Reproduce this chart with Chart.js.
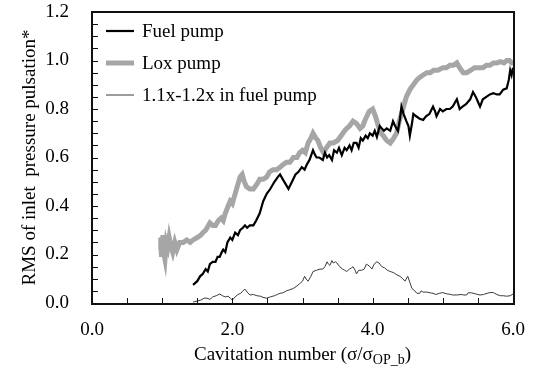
<!DOCTYPE html>
<html>
<head>
<meta charset="utf-8">
<script src="https://cdn.jsdelivr.net/npm/chart.js@4/dist/chart.umd.min.js"></script>
<style>
html,body{margin:0;padding:0;background:#fff;}
#wrap{width:534px;height:369px;}
</style>
</head>
<body>
<div id="wrap"><canvas id="c" width="534" height="369"></canvas></div>
<script>
// ---- data ----
const fuelX = [1.44,1.50,1.54,1.58,1.62,1.65,1.68,1.72,1.76,1.79,1.82,1.85,1.87,1.90,1.93,1.97,2.00,2.04,2.08,2.11,2.15,2.18,2.21,2.25,2.30,2.34,2.39,2.44,2.49,2.54,2.60,2.65,2.68,2.72,2.76,2.80,2.85,2.90,2.94,2.99,3.03,3.06,3.10,3.15,3.18,3.20,3.24,3.29,3.32,3.35,3.38,3.42,3.45,3.49,3.52,3.56,3.60,3.63,3.67,3.70,3.73,3.77,3.80,3.83,3.86,3.90,3.93,3.96,4.00,4.03,4.06,4.10,4.13,4.16,4.20,4.25,4.29,4.32,4.36,4.39,4.41,4.44,4.48,4.51,4.53,4.56,4.58,4.62,4.67,4.72,4.76,4.81,4.86,4.89,4.91,4.96,5.00,5.05,5.10,5.14,5.20,5.22,5.24,5.28,5.33,5.39,5.43,5.47,5.50,5.53,5.57,5.62,5.67,5.72,5.77,5.81,5.86,5.91,5.94,5.96,5.98,6.00];
const fuelY = [0.075,0.09,0.11,0.12,0.14,0.13,0.16,0.17,0.17,0.19,0.19,0.21,0.22,0.21,0.25,0.27,0.26,0.29,0.28,0.30,0.31,0.32,0.31,0.32,0.32,0.34,0.37,0.42,0.45,0.47,0.50,0.52,0.53,0.51,0.49,0.47,0.50,0.53,0.54,0.56,0.55,0.57,0.59,0.63,0.61,0.60,0.60,0.59,0.62,0.60,0.61,0.59,0.63,0.62,0.64,0.61,0.64,0.63,0.65,0.63,0.66,0.66,0.64,0.68,0.67,0.69,0.68,0.70,0.69,0.71,0.685,0.73,0.72,0.71,0.72,0.71,0.75,0.73,0.71,0.76,0.81,0.78,0.75,0.73,0.69,0.74,0.78,0.77,0.76,0.755,0.77,0.78,0.81,0.79,0.77,0.80,0.79,0.80,0.80,0.81,0.84,0.82,0.80,0.81,0.82,0.84,0.87,0.85,0.83,0.81,0.84,0.85,0.86,0.865,0.86,0.86,0.88,0.885,0.92,0.96,0.94,0.97];

const loxX = [0.97,0.98,0.99,1.00,1.01,1.02,1.04,1.06,1.08,1.10,1.12,1.15,1.18,1.21,1.25,1.30,1.35,1.40,1.44,1.50,1.55,1.58,1.62,1.68,1.72,1.76,1.80,1.84,1.87,1.90,1.94,1.97,2.00,2.04,2.08,2.11,2.14,2.17,2.20,2.25,2.30,2.35,2.39,2.44,2.49,2.53,2.58,2.63,2.68,2.72,2.77,2.82,2.87,2.92,2.96,3.00,3.04,3.08,3.12,3.15,3.19,3.22,3.26,3.30,3.34,3.39,3.44,3.50,3.55,3.60,3.63,3.67,3.72,3.77,3.82,3.86,3.90,3.95,4.00,4.04,4.08,4.12,4.15,4.20,4.25,4.30,4.34,4.38,4.43,4.48,4.53,4.58,4.63,4.67,4.72,4.77,4.82,4.87,4.93,5.00,5.05,5.10,5.15,5.20,5.24,5.29,5.34,5.40,5.45,5.50,5.57,5.62,5.67,5.72,5.77,5.82,5.87,5.91,5.95,5.98,6.00];
const loxY = [0.22,0.27,0.19,0.26,0.28,0.21,0.18,0.25,0.23,0.27,0.24,0.21,0.25,0.22,0.25,0.25,0.26,0.25,0.26,0.27,0.28,0.29,0.30,0.33,0.32,0.32,0.34,0.35,0.34,0.37,0.40,0.42,0.41,0.45,0.49,0.52,0.53,0.50,0.48,0.47,0.47,0.49,0.51,0.51,0.52,0.54,0.55,0.55,0.56,0.57,0.58,0.58,0.60,0.60,0.62,0.63,0.62,0.66,0.68,0.70,0.68,0.67,0.64,0.62,0.64,0.66,0.66,0.67,0.69,0.71,0.72,0.73,0.75,0.74,0.72,0.73,0.76,0.79,0.80,0.77,0.73,0.70,0.69,0.67,0.66,0.68,0.70,0.75,0.80,0.85,0.88,0.90,0.92,0.93,0.94,0.95,0.95,0.96,0.96,0.97,0.97,0.98,0.98,0.99,0.97,0.95,0.95,0.96,0.97,0.97,0.97,0.98,0.98,0.99,0.99,0.995,0.99,1.00,1.00,0.99,0.99];

const harmX = [1.44,1.50,1.55,1.60,1.64,1.68,1.72,1.77,1.82,1.86,1.90,1.94,1.97,2.00,2.04,2.08,2.12,2.15,2.18,2.21,2.25,2.30,2.35,2.40,2.45,2.49,2.54,2.60,2.64,2.68,2.72,2.77,2.82,2.87,2.92,2.96,3.00,3.03,3.06,3.08,3.12,3.15,3.20,3.25,3.29,3.32,3.35,3.37,3.39,3.42,3.44,3.47,3.49,3.53,3.57,3.60,3.63,3.67,3.70,3.72,3.75,3.77,3.80,3.84,3.88,3.91,3.93,3.96,3.99,4.02,4.06,4.09,4.13,4.17,4.21,4.25,4.30,4.35,4.39,4.43,4.46,4.50,4.53,4.56,4.60,4.63,4.67,4.69,4.72,4.77,4.82,4.86,4.90,4.95,5.00,5.05,5.10,5.14,5.20,5.26,5.30,5.34,5.36,5.41,5.46,5.50,5.53,5.58,5.63,5.67,5.72,5.77,5.82,5.86,5.91,5.96,6.00];
const harmY = [0.004,0.008,0.012,0.02,0.02,0.015,0.025,0.03,0.037,0.03,0.025,0.028,0.02,0.012,0.025,0.035,0.04,0.05,0.057,0.045,0.033,0.035,0.03,0.028,0.022,0.02,0.025,0.03,0.035,0.04,0.042,0.05,0.055,0.06,0.07,0.08,0.09,0.11,0.095,0.09,0.11,0.13,0.135,0.14,0.14,0.15,0.17,0.16,0.155,0.175,0.165,0.17,0.165,0.15,0.14,0.135,0.13,0.14,0.145,0.15,0.135,0.12,0.135,0.135,0.14,0.16,0.157,0.15,0.14,0.16,0.17,0.165,0.15,0.145,0.135,0.13,0.125,0.115,0.11,0.10,0.09,0.11,0.085,0.06,0.05,0.04,0.04,0.05,0.045,0.045,0.042,0.04,0.035,0.04,0.043,0.038,0.036,0.033,0.033,0.035,0.033,0.033,0.042,0.042,0.038,0.035,0.033,0.035,0.04,0.043,0.043,0.035,0.03,0.03,0.028,0.03,0.037];

const seriesLabels = ['Fuel pump','Lox pump','1.1x-1.2x in fuel pump'];
const xTitle = 'Cavitation number (\u03C3/\u03C3';
const xTitleSub = 'OP_b';
const yTitle = 'RMS of inlet  pressure pulsation*';

const FONT = '"Liberation Serif","Times New Roman",serif';

function pts(xs, ys){ return xs.map((x,i)=>({x:x, y:ys[i]})); }

const framePlugin = {
  id: 'frame',
  afterDraw(chart){
    const ctx = chart.ctx, a = chart.chartArea;
    const xs = chart.scales.x, ys = chart.scales.y;
    ctx.save();
    ctx.globalAlpha = 1;
    ctx.globalCompositeOperation = 'source-over';
    ctx.fillStyle = '#000000';
    const L = Math.round(a.left), R = Math.round(a.right), T = Math.round(a.top), B = Math.round(a.bottom);
    // border (filled rectangles, ~1.5px)
    ctx.fillStyle = '#111111';
    ctx.fillRect(L - 1, T - 1, R - L + 3, 2);
    ctx.fillRect(L - 1, B, R - L + 3, 2);
    ctx.fillRect(L - 1, T - 1, 2, B - T + 3);
    ctx.fillRect(R, T - 1, 2, B - T + 3);
    // inward ticks
    xs.ticks.forEach(t=>{
      const px = Math.round(xs.getPixelForValue(t.value));
      ctx.fillRect(px, B - 5, 1, 5);
    });
    ys.ticks.forEach(t=>{
      const py = Math.round(ys.getPixelForValue(t.value));
      ctx.fillRect(L + 1, py, 5, 1);
    });

    // legend
    ctx.font = '19px ' + FONT;
    ctx.textBaseline = 'middle';
    ctx.textAlign = 'left';
    const ly = [31, 63, 95];
    chart.data.datasets.forEach((ds,i)=>{
      ctx.beginPath();
      ctx.strokeStyle = ds.borderColor;
      ctx.lineWidth = ds.borderWidth;
      ctx.moveTo(106, ly[i]); ctx.lineTo(134, ly[i]);
      ctx.stroke();
      ctx.fillStyle = '#000000';
      ctx.fillText(ds.label, 142, ly[i]+1);
    });

    // y title
    ctx.save();
    ctx.translate(30, (a.top+a.bottom)/2);
    ctx.rotate(-Math.PI/2);
    ctx.textAlign = 'center';
    ctx.font = '19px ' + FONT;
    ctx.fillText(yTitle, 0, 0);
    ctx.restore();

    // x title with subscript
    ctx.textBaseline = 'alphabetic';
    ctx.textAlign = 'left';
    ctx.font = '19px ' + FONT;
    const w1 = ctx.measureText(xTitle).width;
    ctx.font = '14px ' + FONT;
    const w2 = ctx.measureText(xTitleSub).width;
    ctx.font = '19px ' + FONT;
    const w3 = ctx.measureText(')').width;
    const total = w1+w2+w3;
    let x0 = (a.left+a.right)/2 - total/2;
    const base = 360;
    ctx.fillText(xTitle, x0, base);
    ctx.font = '14px ' + FONT;
    ctx.fillText(xTitleSub, x0+w1, base+4);
    ctx.font = '19px ' + FONT;
    ctx.fillText(')', x0+w1+w2, base);
    ctx.restore();
  }
};

new Chart(document.getElementById('c'), {
  type: 'line',
  data: {
    datasets: [
      {label: seriesLabels[0], data: pts(fuelX, fuelY), borderColor:'#000000', borderWidth:2.2, pointRadius:0, tension:0, fill:false},
      {label: seriesLabels[1], data: pts(loxX, loxY), borderColor:'#A6A6A6', borderWidth:5, pointRadius:0, tension:0, fill:false},
      {label: seriesLabels[2], data: pts(harmX, harmY), borderColor:'#3a3a3a', borderWidth:1, pointRadius:0, tension:0, fill:false}
    ]
  },
  plugins: [framePlugin],
  options: {
    responsive: false,
    animation: false,
    devicePixelRatio: 1,
    layout: {padding: {left:0, right:21, top:12, bottom:0}},
    plugins: {legend:{display:false}, tooltip:{enabled:false}, title:{display:false}},
    scales: {
      x: {
        type:'linear', min:0, max:6,
        grid:{display:false, drawTicks:false},
        border:{display:false},
        ticks:{stepSize:0.5, autoSkip:false, maxRotation:0, padding:16, color:'#000',
          font:{family:FONT, size:19},
          callback:(v)=> (Math.round(v*10)%20===0 ? v.toFixed(1) : '')},
        afterFit:(s)=>{ s.height = 66; s.paddingLeft = 0; s.paddingRight = 0; }
      },
      y: {
        type:'linear', min:0, max:1.2,
        grid:{display:false, drawTicks:false},
        border:{display:false},
        ticks:{stepSize:0.05, autoSkip:false, padding:23, color:'#000',
          font:{family:FONT, size:19},
          callback:(v)=> (Math.round(v*100)%20===0 ? v.toFixed(1) : '')},
        afterFit:(s)=>{ s.width = 92; s.paddingTop = 0; s.paddingBottom = 0; }
      }
    }
  }
});
</script>
</body>
</html>
